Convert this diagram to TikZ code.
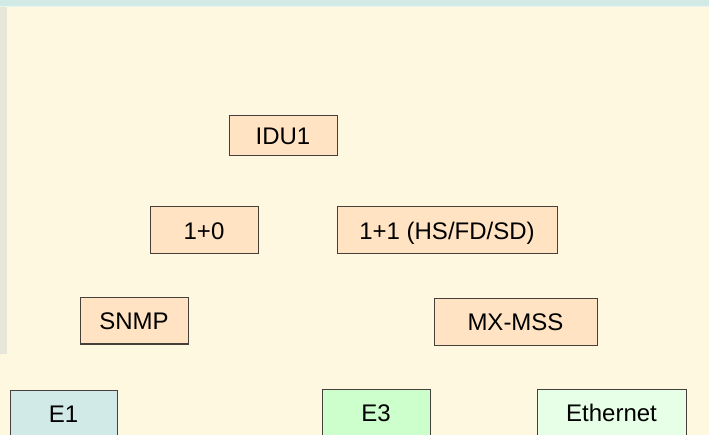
\documentclass[tikz,border=0pt]{standalone}
\usepackage{fontspec}
\setmainfont{Liberation Sans}
\definecolor{bgcream}{HTML}{FFF8E0}
\definecolor{topband}{HTML}{D2EAE6}
\definecolor{leftstrip}{HTML}{E8E6D8}
\definecolor{peach}{HTML}{FFE3C2}
\definecolor{tealfill}{HTML}{D2EAE7}
\definecolor{greenfill}{HTML}{CCFFCC}
\definecolor{palegreen}{HTML}{E6FFE6}
\definecolor{edge}{HTML}{45403A}
\tikzset{
  box/.style={draw=edge, line width=1pt, rectangle, inner sep=0pt,
    font=\fontsize{24}{24}\selectfont, text height=17.2pt, text depth=0pt, align=center},
  peachbox/.style={box, fill=peach},
}
\begin{document}
\begin{tikzpicture}[x=1pt,y=-1pt]
\useasboundingbox (0,0) rectangle (709,435);
\clip (0,0) rectangle (709,435);
\fill[bgcream] (0,0) rectangle (709,435);
\fill[topband] (0,0) rectangle (709,6);
\fill[white!50!topband] (0,6) rectangle (709,7);
\fill[leftstrip] (0,7) rectangle (7,354);
\node[peachbox, minimum width=108pt, minimum height=40pt] (idu) at (283,136) {IDU1};
\node[peachbox, minimum width=108pt, minimum height=47pt] (a10) at (204,230.5) {1+0};
\node[peachbox, minimum width=220pt, minimum height=47pt] (a11) at (447,230.5) {1+1 (HS/FD/SD)};
\node[peachbox, minimum width=108pt, minimum height=46pt] (snmp) at (134,321) {SNMP};
\node[peachbox, minimum width=163pt, minimum height=46pt] (mx) at (515.5,322) {MX-MSS};
\node[box, fill=tealfill, minimum width=107pt, minimum height=47pt] (e1) at (63.5,413.5) {E1};
\node[box, fill=greenfill, minimum width=108pt, minimum height=47pt] (e3) at (376,413) {E3};
\node[box, fill=palegreen, minimum width=149pt, minimum height=47pt] (eth) at (611.5,413) {Ethernet};
\end{tikzpicture}
\end{document}
